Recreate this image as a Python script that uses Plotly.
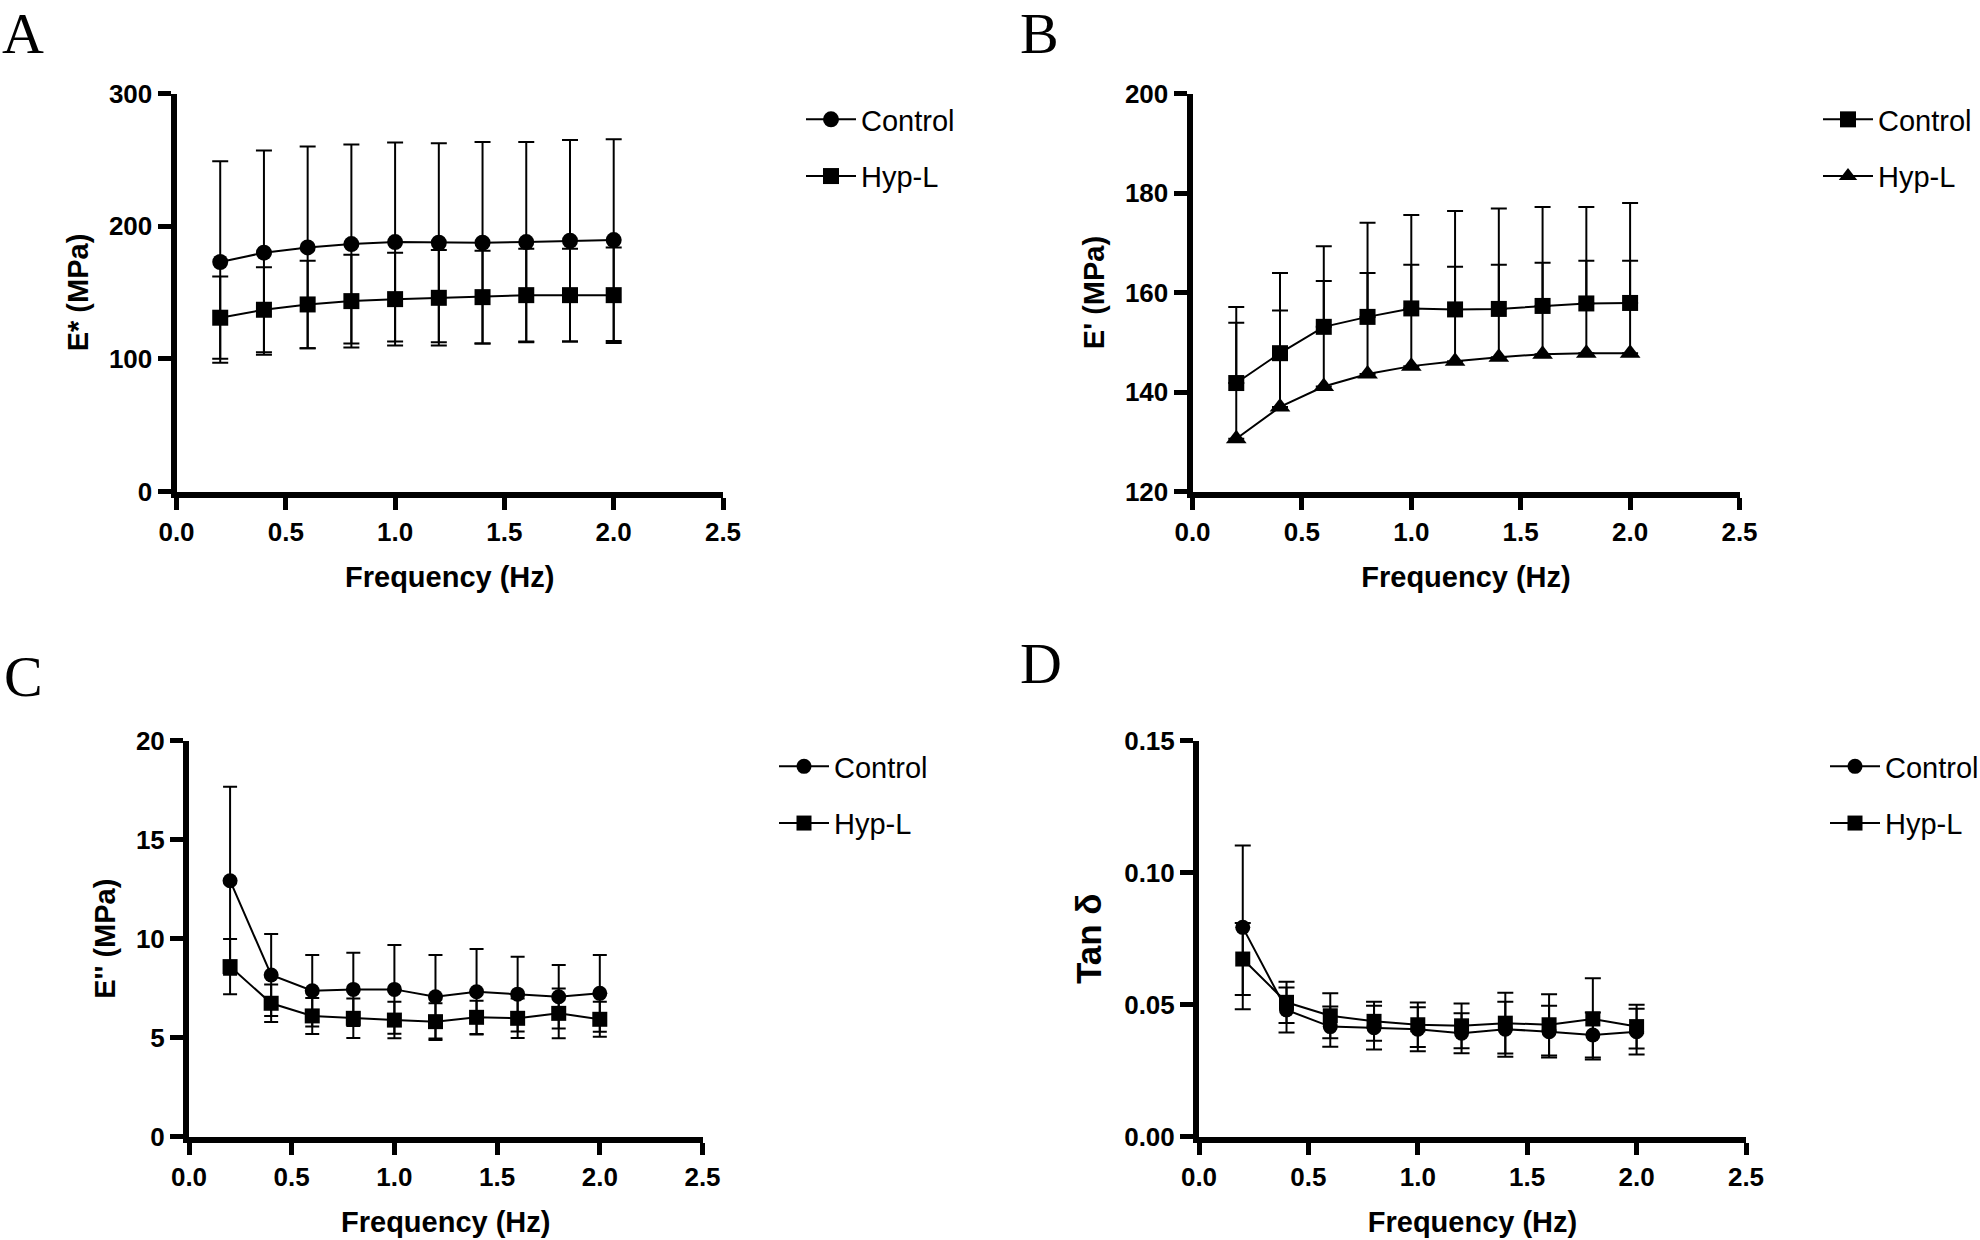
import plotly.graph_objects as go

# ---------------- data ----------------
freq = [0.2, 0.4, 0.6, 0.8, 1.0, 1.2, 1.4, 1.6, 1.8, 2.0]

# Panel A: E* (MPa)
a_ctrl = [173, 180, 184, 186.5, 188, 187.5, 187.5, 188, 189, 189.5]
a_ctrl_sd = [76, 77, 76, 75, 75, 75, 76, 75.5, 76, 76]
a_hyp = [131, 137, 141, 143.5, 145, 146, 146.5, 148, 148, 148]
a_hyp_sd = [31, 32, 33, 35, 35, 36, 35, 35, 35, 36]

# Panel B: E' (MPa)
b_ctrl = [141.8, 147.8, 153.1, 155.1, 156.8, 156.6, 156.7, 157.3, 157.8, 157.9]
b_ctrl_sd = [15.3, 16.1, 16.2, 18.9, 18.8, 19.8, 20.2, 19.9, 19.4, 20.1]
b_hyp = [130.6, 137.0, 141.1, 143.6, 145.2, 146.2, 147.0, 147.6, 147.8, 147.8]
b_hyp_sd = [23.3, 19.4, 21.2, 20.3, 20.4, 19.0, 18.6, 18.4, 18.6, 18.6]

# Panel C: E'' (MPa)
c_ctrl = [12.93, 8.17, 7.37, 7.44, 7.44, 7.07, 7.32, 7.2, 7.07, 7.24]
c_ctrl_sd = [4.75, 2.07, 1.81, 1.85, 2.24, 2.11, 2.16, 1.89, 1.6, 1.94]
c_hyp = [8.59, 6.74, 6.1, 5.98, 5.89, 5.81, 6.03, 5.98, 6.23, 5.93]
c_hyp_sd = [1.4, 0.95, 0.91, 1.0, 0.92, 0.93, 0.84, 1.0, 1.26, 0.88]

# Panel D: Tan delta
d_ctrl = [0.0793, 0.048, 0.0417, 0.0413, 0.0407, 0.0392, 0.0407, 0.0398, 0.0385, 0.0398]
d_ctrl_sd = [0.031, 0.0085, 0.0076, 0.0083, 0.0083, 0.0076, 0.0104, 0.0098, 0.0085, 0.0087]
d_hyp = [0.0673, 0.0509, 0.0458, 0.0437, 0.0424, 0.042, 0.043, 0.0424, 0.0446, 0.0417]
d_hyp_sd = [0.0136, 0.0078, 0.0085, 0.0074, 0.0084, 0.0085, 0.0115, 0.0116, 0.0154, 0.0083]

series_names = ["Control", "Hyp-L"]
x_ticks = [0.0, 0.5, 1.0, 1.5, 2.0, 2.5]
a_ticks = [0, 100, 200, 300]
b_ticks = [120, 140, 160, 180, 200]
c_ticks = [0, 5, 10, 15, 20]
d_ticks = [0.00, 0.05, 0.10, 0.15]

# ---------------- style ----------------
SANS = "Liberation Sans, Arial, sans-serif"
SERIF = "Liberation Serif, Times New Roman, serif"
BLACK = "black"

W, H = 1980, 1240


def px_x(a, b):
    return [a / W, b / W]


def px_y(top, bottom):
    return [1 - bottom / H, 1 - top / H]


fig = go.Figure()


def add_series(x, y, sd, name, symbol, size, xa, ya, leg, capw, above_only=False):
    if above_only:
        err = dict(type="data", array=sd, symmetric=False, arrayminus=[0] * len(sd),
                   color=BLACK, thickness=2, width=capw)
    else:
        err = dict(type="data", array=sd, symmetric=True, color=BLACK, thickness=2, width=capw)
    fig.add_trace(go.Scatter(
        x=x, y=y, name=name, mode="lines+markers",
        line=dict(color=BLACK, width=2),
        marker=dict(symbol=symbol, size=size, color=BLACK),
        error_y=err, xaxis=xa, yaxis=ya, legend=leg,
        legendgroup=leg + name, cliponaxis=False,
        legendrank=1 if name == "Control" else 2,
    ))


add_series(freq, a_hyp, a_hyp_sd, series_names[1], "square", 16, "x", "y", "legend", 8)
add_series(freq, a_ctrl, a_ctrl_sd, series_names[0], "circle", 16, "x", "y", "legend", 8)
add_series(freq, b_ctrl, b_ctrl_sd, series_names[0], "square", 16, "x2", "y2", "legend2", 8, True)
add_series(freq, b_hyp, b_hyp_sd, series_names[1], "triangle-up", 18, "x2", "y2", "legend2", 8, True)
add_series(freq, c_hyp, c_hyp_sd, series_names[1], "square", 15, "x3", "y3", "legend3", 7)
add_series(freq, c_ctrl, c_ctrl_sd, series_names[0], "circle", 15, "x3", "y3", "legend3", 7)
add_series(freq, d_hyp, d_hyp_sd, series_names[1], "square", 15, "x4", "y4", "legend4", 8)
add_series(freq, d_ctrl, d_ctrl_sd, series_names[0], "circle", 15, "x4", "y4", "legend4", 8)

axis_common = dict(
    showline=True, linewidth=6, linecolor=BLACK, ticks="outside", tickwidth=5,
    tickcolor=BLACK, showgrid=False, zeroline=False,
    tickfont=dict(family=SANS, size=26, color=BLACK, weight="bold"),
)


def xax(domain, anchor):
    return dict(axis_common, domain=domain, anchor=anchor, range=[0, 2.5],
                tickvals=x_ticks, tickformat=".1f", ticklen=12,
                title=dict(text="Frequency (Hz)", standoff=23,
                           font=dict(family=SANS, size=29, color=BLACK, weight="bold")))


def yax(domain, anchor, rng, ticks, fmt, title, tsize=29, standoff=14):
    return dict(axis_common, domain=domain, anchor=anchor, range=rng,
                tickvals=ticks, tickformat=fmt, ticklen=13,
                title=dict(text=title, standoff=standoff,
                           font=dict(family=SANS, size=tsize, color=BLACK, weight="bold")))


top_dom = px_y(93.5, 491.5)
bot_dom = px_y(740.7, 1136.7)


def legend(x_px, y_center_px):
    return dict(x=x_px / W, y=1 - y_center_px / H, xanchor="left", yanchor="middle",
                font=dict(family=SANS, size=29, color=BLACK), bgcolor="rgba(0,0,0,0)",
                traceorder="grouped", tracegroupgap=16, itemwidth=50)


fig.update_layout(
    width=W, height=H,
    margin=dict(l=0, r=0, t=0, b=0, autoexpand=False),
    paper_bgcolor="white", plot_bgcolor="white",
    showlegend=True,
    xaxis=xax(px_x(176.5, 723), "y"),
    yaxis=yax(top_dom, "x", [0, 300], a_ticks, "d", "E* (MPa)"),
    xaxis2=xax(px_x(1192.5, 1739.5), "y2"),
    yaxis2=yax(top_dom, "x2", [120, 200], b_ticks, "d", "E' (MPa)"),
    xaxis3=xax(px_x(189, 702.5), "y3"),
    yaxis3=yax(bot_dom, "x3", [0, 20], c_ticks, "d", "E'' (MPa)"),
    xaxis4=xax(px_x(1199, 1746), "y4"),
    yaxis4=yax(bot_dom, "x4", [0, 0.15], d_ticks, ".2f", "Tan δ", tsize=35),
    legend=legend(801, 148),
    legend2=legend(1818, 148),
    legend3=legend(774, 795),
    legend4=legend(1825, 795),
)

for label, x_px, y_px in [("A", 0, 33), ("B", 1018, 33), ("C", 2, 676), ("D", 1018, 663)]:
    fig.add_annotation(text=label, x=x_px / W, y=1 - y_px / H, xref="paper", yref="paper",
                       xanchor="left", yanchor="middle", showarrow=False,
                       font=dict(family=SERIF, size=58, color=BLACK))

fig.write_html("out.html", config={"displayModeBar": False},
               post_script="document.body.style.margin='0';")
